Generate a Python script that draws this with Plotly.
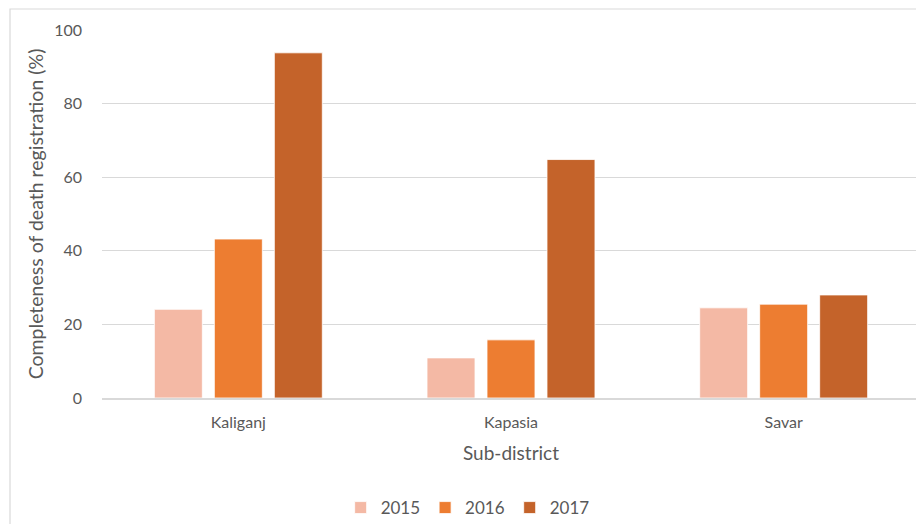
import plotly.graph_objects as go

categories = ["Kaliganj", "Kapasia", "Savar"]
years = ["2015", "2016", "2017"]
values_2015 = [24.1, 10.9, 24.5]
values_2016 = [43.2, 15.8, 25.5]
values_2017 = [93.8, 64.8, 28.0]
colors = ["#F4B9A5", "#ED7D31", "#C4632A"]

fig = go.Figure()
for name, vals, col in zip(years, [values_2015, values_2016, values_2017], colors):
    fig.add_trace(go.Bar(x=categories, y=vals, name=name,
                         marker=dict(color=col, line=dict(color="white", width=0.8))))

font_family = "Lato, Open Sans, sans-serif"
# page body has an 8px margin, so the plot area is placed with that offset in mind
fig.update_layout(
    width=924, height=524,
    margin=dict(l=94, r=12, t=22, b=134, autoexpand=False),
    paper_bgcolor="white", plot_bgcolor="white",
    barmode="group", bargap=0.34, bargroupgap=0.2,
    font=dict(family=font_family, color="#595959", size=16),
    showlegend=True,
    legend=dict(orientation="h", x=0.447, xanchor="center", y=-0.299, yanchor="middle",
                font=dict(size=17, color="#595959"), traceorder="normal"),
    xaxis=dict(title=dict(text="Sub-district", font=dict(size=19), standoff=17),
               showgrid=False, showline=True, linecolor="#D9D9D9", linewidth=1.5,
               ticks="", tickfont=dict(size=16), ticklabelstandoff=9, automargin=False),
    yaxis=dict(title=dict(text="Completeness of death registration (%)", font=dict(size=19.5), standoff=5),
               range=[0, 100], dtick=20, showgrid=True, gridcolor="#D9D9D9", gridwidth=1.2,
               zeroline=False, showline=False, ticks="", tickfont=dict(size=16),
               ticklabelstandoff=19, automargin=False),
    shapes=[dict(type="rect", xref="paper", yref="paper",
                 x0=(10 - 102) / 818, x1=1.2, y0=-0.6, y1=(398 - 9) / 368,
                 line=dict(color="#D9D9D9", width=1.2), fillcolor="rgba(0,0,0,0)", layer="below")],
)

fig.write_html("out.html")
